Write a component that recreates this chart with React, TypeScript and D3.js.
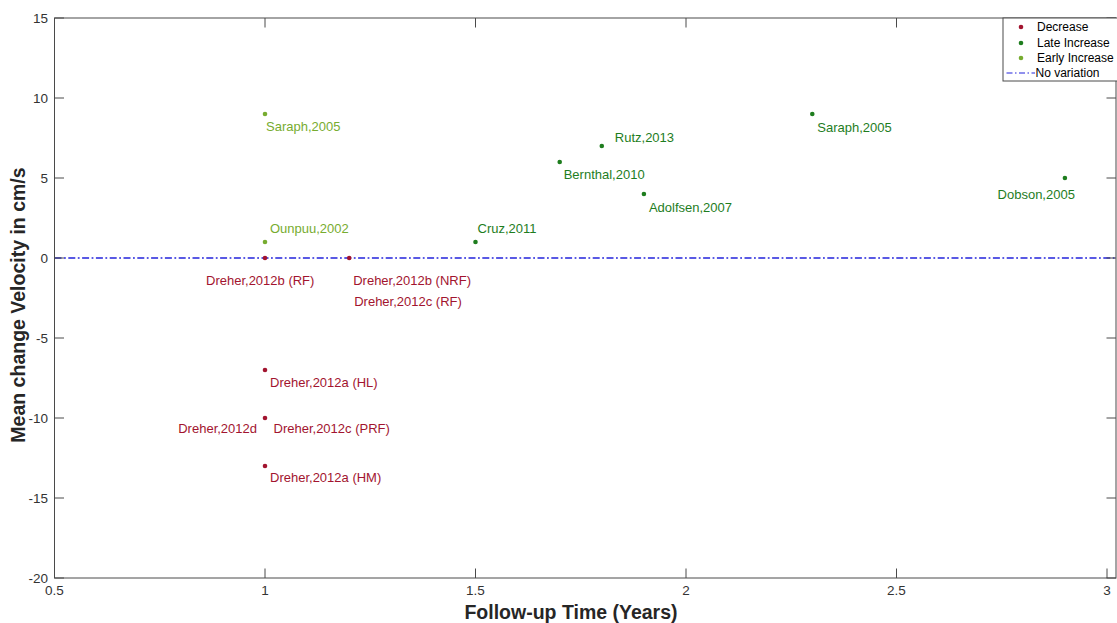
import React from "react";
import * as d3 from "d3";

// ---- Data ----
const decreaseX = [1, 1.2, 1, 1, 1];
const decreaseY = [0, 0, -7, -10, -13];
const lateX = [1.5, 1.7, 1.8, 1.9, 2.3, 2.9];
const lateY = [1, 6, 7, 4, 9, 5];
const earlyX = [1, 1];
const earlyY = [9, 1];

// label texts: [x, y, text, group]
const labelTexts: [number, number, string, string][] = [
  [1, 9, "Saraph,2005", "early"],
  [1, 1, "Ounpuu,2002", "early"],
  [1, 0, "Dreher,2012b (RF)", "dec"],
  [1.2, 0, "Dreher,2012b (NRF)", "dec"],
  [1.2, 0, "Dreher,2012c (RF)", "dec"],
  [1, -7, "Dreher,2012a (HL)", "dec"],
  [1, -10, "Dreher,2012d", "dec"],
  [1, -10, "Dreher,2012c (PRF)", "dec"],
  [1, -13, "Dreher,2012a (HM)", "dec"],
  [1.5, 1, "Cruz,2011", "late"],
  [1.7, 6, "Bernthal,2010", "late"],
  [1.8, 7, "Rutz,2013", "late"],
  [1.9, 4, "Adolfsen,2007", "late"],
  [2.3, 9, "Saraph,2005", "late"],
  [2.9, 5, "Dobson,2005", "late"],
];

const xTicks = [0.5, 1, 1.5, 2, 2.5, 3];
const yTicks = [-20, -15, -10, -5, 0, 5, 10, 15];
const legendLabels = ["Decrease", "Late Increase", "Early Increase", "No variation"];

// ---- Styling / placement (pixels) ----
const labelOffsets: [number, number, string][] = [
  [1, 16.5, "start"],
  [5, -9.5, "start"],
  [-59, 27, "start"],
  [4, 26.5, "start"],
  [5, 48, "start"],
  [5, 17, "start"],
  [-8, 14.5, "end"],
  [8.5, 14.5, "start"],
  [5, 15.5, "start"],
  [2, -9.5, "start"],
  [4, 17, "start"],
  [13, -4.5, "start"],
  [5, 17.5, "start"],
  [5, 17.5, "start"],
  [10, 20.5, "end"],
];

const colors: Record<string, string> = {
  dec: "#A2142F",
  late: "#1E7D1E",
  early: "#77AC30",
  zero: "#2323DC",
};

const W = 1117;
const H = 623;
const left = 54.5;
const right = 1116;
const top = 18;
const bottom = 578;
const font = "'Liberation Sans', Arial, Helvetica, sans-serif";
const axisColor = "#4a4a4a";

export default function App() {
  const x = d3.scaleLinear().domain([0.5, 3]).range([left, 1107]);
  const y = d3.scaleLinear().domain([-20, 15]).range([bottom, top]);
  const tickLen = 9.5;

  const dot = (xs: number[], ys: number[], c: string) =>
    xs.map((v, i) => <circle key={i} cx={x(v)} cy={y(ys[i])} r={2.3} fill={c} />);

  const legendYs = [27, 43, 58, 73];

  return (
    <svg
      width={W}
      height={H}
      style={{ position: "absolute", left: 0, top: 0, display: "block", background: "#fff" }}
      fontFamily={font}
    >
      <rect x={0} y={0} width={W} height={H} fill="#fff" />
      {/* zero line */}
      <line
        x1={left}
        x2={right}
        y1={y(0)}
        y2={y(0)}
        stroke={colors.zero}
        strokeWidth={1.5}
        strokeDasharray="7,2.5,1.8,2.5"
      />
      {/* axes box */}
      <rect x={left} y={top} width={right - left} height={bottom - top} fill="none" stroke={axisColor} strokeWidth={1} />
      {/* ticks */}
      {xTicks.map((t) => (
        <g key={"xt" + t}>
          <line x1={x(t)} x2={x(t)} y1={bottom} y2={bottom - tickLen} stroke={axisColor} />
          <line x1={x(t)} x2={x(t)} y1={top} y2={top + tickLen} stroke={axisColor} />
          <text x={x(t)} y={595} textAnchor="middle" fontSize={13.5} fill="#333">
            {String(t)}
          </text>
        </g>
      ))}
      {yTicks.map((t) => (
        <g key={"yt" + t}>
          <line x1={left} x2={left + tickLen} y1={y(t)} y2={y(t)} stroke={axisColor} />
          <line x1={right} x2={right - tickLen} y1={y(t)} y2={y(t)} stroke={axisColor} />
          <text x={48} y={y(t) + 5} textAnchor="end" fontSize={13.5} fill="#333">
            {String(t)}
          </text>
        </g>
      ))}
      {/* axis titles */}
      <text x={571} y={619} textAnchor="middle" fontSize={19.5} fontWeight="bold" fill="#262626">
        Follow-up Time (Years)
      </text>
      <text
        transform={`translate(25,${(top + bottom) / 2 + 7}) rotate(-90)`}
        textAnchor="middle"
        fontSize={19.5}
        fontWeight="bold"
        fill="#262626"
      >
        Mean change Velocity in cm/s
      </text>
      {/* points */}
      {dot(decreaseX, decreaseY, colors.dec)}
      {dot(lateX, lateY, colors.late)}
      {dot(earlyX, earlyY, colors.early)}
      {/* labels */}
      {labelTexts.map(([lx, ly, txt, g], i) => (
        <text
          key={"lb" + i}
          x={x(lx) + labelOffsets[i][0]}
          y={y(ly) + labelOffsets[i][1]}
          textAnchor={labelOffsets[i][2] as any}
          fontSize={13}
          fill={colors[g]}
        >
          {txt}
        </text>
      ))}
      {/* legend */}
      <rect x={1003} y={top} width={W - 1003 + 5} height={81 - top} fill="#fff" stroke={axisColor} strokeWidth={1} />
      {legendLabels.map((l, i) => (
        <g key={"lg" + i}>
          {i < 3 ? (
            <circle cx={1021} cy={legendYs[i]} r={2.3} fill={[colors.dec, colors.late, colors.early][i]} />
          ) : (
            <line
              x1={1006.5}
              x2={1035}
              y1={legendYs[i]}
              y2={legendYs[i]}
              stroke={colors.zero}
              strokeWidth={1}
              strokeDasharray="6,2.5,1.5,2.5"
            />
          )}
          <text x={i < 3 ? 1037 : 1035.5} y={legendYs[i] + 4.3} fontSize={12} fill="#000">
            {l}
          </text>
        </g>
      ))}
    </svg>
  );
}
